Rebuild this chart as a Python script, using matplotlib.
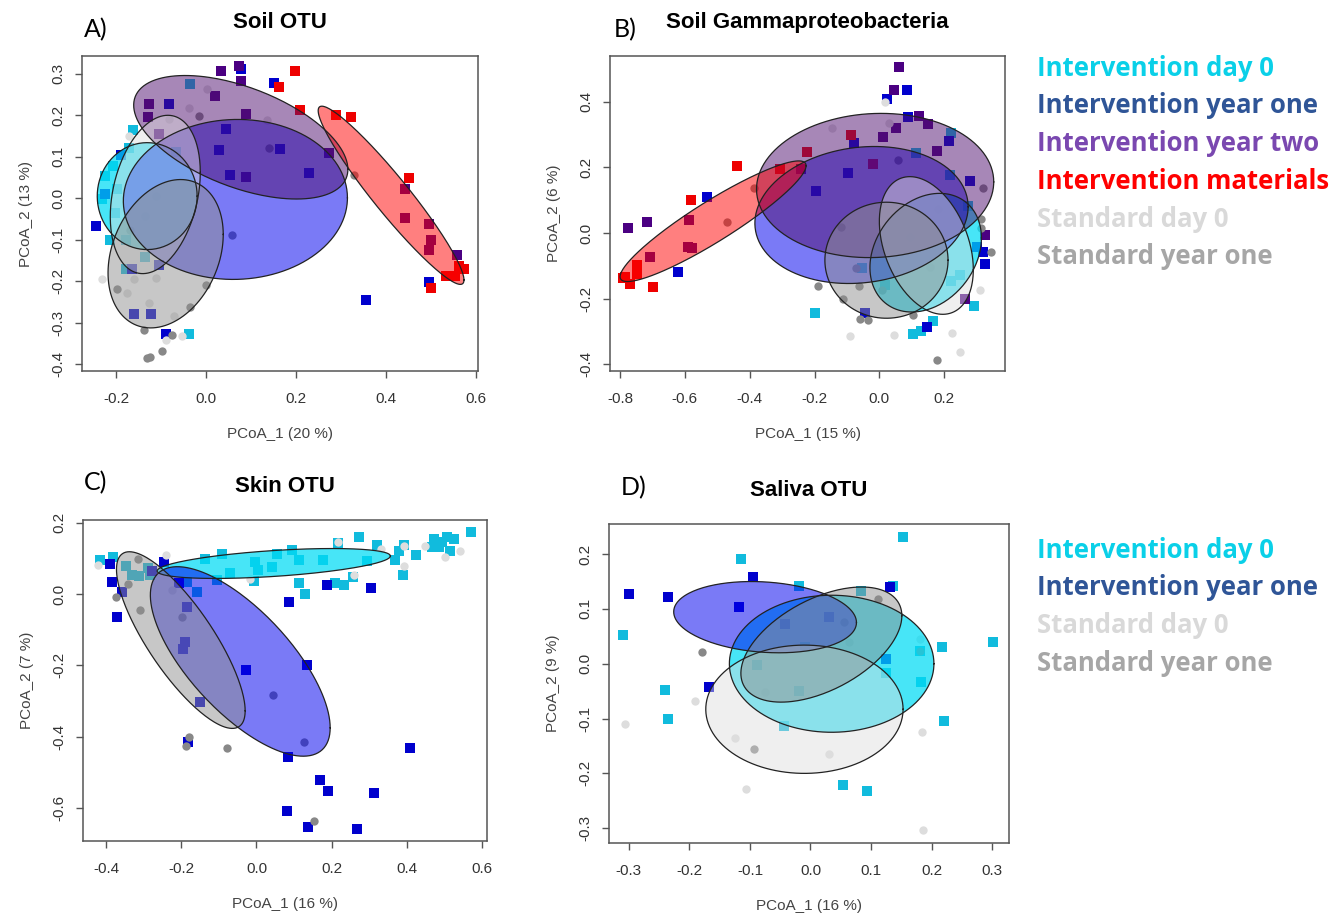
import numpy as np
import matplotlib.pyplot as plt

# group styling: point colour, marker, ellipse fill colour, ellipse alpha
groups = ["day0", "year1", "year2", "materials", "std_day0", "std_year1"]
point_color = {"day0": "#11BBDD", "year1": "#0000CD", "year2": "#4B0082",
               "materials": "#EE0000", "std_day0": "#DDDDDD", "std_year1": "#888888"}
marker = {"day0": "s", "year1": "s", "year2": "s", "materials": "s",
          "std_day0": "o", "std_year1": "o"}
fill_color = {"day0": "#00DCF5", "year1": "#0000EE", "year2": "#501070",
              "materials": "#FF0000", "std_day0": "#DDDDDD", "std_year1": "#909090"}
fill_alpha = {"day0": 0.72, "year1": 0.52, "year2": 0.5, "materials": 0.5,
              "std_day0": 0.45, "std_year1": 0.5}

legend_top = ["Intervention day 0", "Intervention year one", "Intervention year two",
              "Intervention materials", "Standard day 0", "Standard year one"]
legend_top_colors = ["#0AD0E8", "#2F5597", "#7A48B0", "#FF0000", "#D9D9D9", "#A6A6A6"]
legend_bottom = ["Intervention day 0", "Intervention year one", "Standard day 0", "Standard year one"]
legend_bottom_colors = ["#0AD0E8", "#2F5597", "#D9D9D9", "#A6A6A6"]

# ---------------- A) Soil OTU ----------------
a_day0 = [(-0.035, 0.275), (-0.163, 0.164), (-0.224, 0.053), (-0.198, 0.021), (-0.206, 0.077),
          (-0.232, -0.002), (-0.202, -0.035), (-0.213, -0.100), (-0.178, -0.100), (-0.135, -0.142),
          (-0.178, -0.172), (-0.039, -0.327), (-0.067, 0.111), (-0.172, 0.121)]
a_year1 = [(0.078, 0.312), (0.151, 0.278), (-0.082, 0.228), (0.044, 0.166), (0.028, 0.117),
           (0.164, 0.119), (0.053, 0.056), (0.228, 0.061), (-0.244, -0.068), (-0.189, 0.105),
           (0.495, -0.202), (0.356, -0.245), (-0.161, -0.280), (-0.123, -0.280), (-0.089, -0.327),
           (-0.165, -0.171), (-0.104, -0.162), (-0.224, 0.009)]
a_year2 = [(0.074, 0.320), (0.034, 0.306), (0.077, 0.282), (0.020, 0.246), (-0.126, 0.228),
           (-0.129, 0.196), (0.089, 0.204), (0.088, 0.051), (0.272, 0.108), (0.441, 0.023),
           (0.441, -0.047), (0.496, -0.062), (0.499, -0.101), (0.496, -0.125), (0.557, -0.138),
           (-0.104, 0.154)]
a_materials = [(0.198, 0.308), (0.162, 0.269), (0.209, 0.212), (0.288, 0.200), (0.322, 0.196),
               (0.450, 0.049), (0.500, -0.216), (0.533, -0.187), (0.552, -0.187), (0.573, -0.171),
               (0.562, -0.164)]
a_std_day0 = [(-0.172, 0.150), (-0.232, -0.195), (-0.176, -0.228), (-0.126, -0.254), (-0.072, -0.285),
              (-0.053, -0.333), (-0.089, -0.341), (0.002, 0.264), (-0.039, 0.218), (-0.083, 0.190),
              (0.136, 0.188), (-0.111, -0.192), (-0.161, -0.196), (-0.111, 0.005), (-0.135, -0.042)]
a_std_year1 = [(-0.139, -0.319), (-0.131, -0.385), (-0.124, -0.383), (-0.097, -0.369), (-0.198, -0.220),
               (-0.035, -0.262), (0.000, -0.210), (-0.076, -0.329), (0.328, 0.056), (-0.015, 0.198),
               (0.140, 0.121), (0.058, -0.090), (-0.169, -0.076)]
# ellipses: group, centre x, centre y, half-range x, half-range y, correlation
a_ellipses = [("day0", -0.131, 0.005, 0.111, 0.129, 0.0),
              ("year1", 0.065, -0.003, 0.249, 0.193, 0.02),
              ("year2", 0.077, 0.147, 0.238, 0.149, -0.52),
              ("materials", 0.411, 0.007, 0.162, 0.215, -0.95),
              ("std_day0", -0.113, 0.009, 0.100, 0.191, 0.28),
              ("std_year1", -0.090, -0.134, 0.128, 0.179, 0.26)]

# ---------------- B) Soil Gammaproteobacteria ----------------
b_day0 = [(0.221, 0.304), (0.112, 0.245), (0.217, 0.177), (0.274, 0.083), (-0.052, -0.106),
          (0.017, -0.159), (0.220, -0.147), (0.248, -0.128), (0.291, -0.222), (-0.199, -0.245),
          (0.104, -0.309), (0.130, -0.298), (0.166, -0.268)]
b_year1 = [(0.084, 0.437), (0.024, 0.409), (0.089, 0.353), (-0.079, 0.276), (0.215, 0.281),
           (-0.098, 0.184), (-0.194, 0.129), (0.281, 0.159), (-0.533, 0.109), (-0.620, -0.118),
           (-0.045, -0.245), (0.146, -0.286), (0.319, -0.057), (0.326, -0.093), (0.300, -0.042)]
b_year2 = [(0.061, 0.506), (0.045, 0.437), (0.123, 0.358), (0.149, 0.332), (0.052, 0.320),
           (0.010, 0.292), (0.178, 0.251), (-0.243, 0.195), (-0.776, 0.016), (-0.716, 0.035),
           (-0.708, -0.074), (-0.587, 0.040), (-0.591, -0.042), (-0.579, -0.047), (0.325, -0.006),
           (0.264, -0.202)]
b_materials = [(-0.440, 0.203), (-0.582, 0.101), (-0.785, -0.133), (-0.769, -0.154), (-0.747, -0.098),
               (-0.747, -0.125), (-0.792, -0.138), (-0.697, -0.164), (-0.224, 0.248), (-0.086, 0.299),
               (-0.307, 0.194), (-0.021, 0.210)]
b_std_day0 = [(0.019, 0.401), (-0.147, 0.320), (0.030, 0.335), (-0.091, -0.313), (0.045, -0.311),
              (0.225, -0.306), (0.248, -0.362), (0.310, -0.174), (0.181, 0.072), (0.156, -0.103),
              (0.094, -0.011)]
b_std_year1 = [(-0.387, 0.138), (-0.469, 0.035), (0.319, 0.136), (0.313, 0.043), (0.346, -0.057),
               (0.313, 0.014), (-0.188, -0.161), (-0.113, -0.202), (-0.064, -0.161), (-0.060, -0.261),
               (-0.034, -0.266), (0.104, -0.250), (0.178, -0.386), (-0.072, -0.106), (0.059, 0.223),
               (-0.117, 0.019), (0.009, -0.174)]
b_ellipses = [("day0", 0.143, -0.060, 0.172, 0.181, 0.25),
              ("year1", -0.055, 0.055, 0.329, 0.209, 0.12),
              ("year2", -0.013, 0.145, 0.366, 0.220, 0.05),
              ("materials", -0.513, 0.036, 0.287, 0.184, 0.92),
              ("std_day0", 0.145, -0.038, 0.145, 0.210, -0.35),
              ("std_year1", 0.022, -0.083, 0.190, 0.177, 0.0)]

# ---------------- C) Skin OTU ----------------
c_day0 = [(-0.416, 0.097), (-0.380, 0.103), (-0.348, 0.079), (-0.332, 0.055), (-0.312, 0.050),
          (-0.283, 0.053), (-0.287, 0.072), (-0.185, 0.035), (-0.159, 0.006), (-0.136, 0.100),
          (-0.105, 0.041), (-0.092, 0.114), (-0.069, 0.060), (-0.004, 0.091), (0.005, 0.067),
          (0.041, 0.077), (0.054, 0.114), (0.094, 0.125), (0.112, 0.032), (0.114, 0.095),
          (0.129, 0.000), (0.178, 0.097), (0.209, 0.032), (0.217, 0.144), (0.233, 0.025),
          (0.256, 0.049), (0.273, 0.159), (0.294, 0.094), (0.320, 0.138), (0.369, 0.095),
          (0.378, 0.122), (0.391, 0.138), (0.389, 0.053), (0.423, 0.111), (0.467, 0.131),
          (0.472, 0.156), (0.494, 0.147), (0.507, 0.159), (0.514, 0.122), (0.525, 0.156),
          (0.571, 0.175), (0.485, 0.133), (-0.006, 0.037)]
c_year1 = [(-0.389, 0.084), (-0.383, 0.033), (-0.370, -0.065), (-0.357, 0.007), (-0.247, 0.089),
           (-0.206, 0.032), (-0.185, -0.036), (-0.190, -0.134), (-0.194, -0.154), (-0.150, -0.302),
           (-0.028, -0.213), (0.134, -0.199), (0.083, -0.458), (0.086, -0.022), (0.188, 0.027),
           (0.305, 0.016), (0.407, -0.433), (0.168, -0.522), (0.190, -0.552), (0.312, -0.559),
           (0.081, -0.608), (0.136, -0.655), (0.267, -0.659), (-0.183, -0.414), (-0.278, 0.065)]
c_std_day0 = [(-0.420, 0.081), (-0.240, 0.111), (0.218, 0.145), (0.393, 0.135), (0.393, 0.079),
              (0.447, 0.135), (0.502, 0.103), (0.542, 0.122), (0.259, 0.053), (0.331, 0.128),
              (-0.017, 0.042), (-0.225, 0.011)]
c_std_year1 = [(-0.314, 0.098), (-0.341, 0.028), (-0.372, -0.009), (-0.309, -0.045), (-0.199, -0.064),
               (-0.178, -0.402), (-0.187, -0.427), (-0.079, -0.433), (0.044, -0.282), (0.127, -0.414),
               (0.152, -0.637)]
c_ellipses = [("day0", 0.046, 0.086, 0.310, 0.042, 0.5),
              ("year1", -0.043, -0.189, 0.239, 0.266, -0.70),
              ("std_year1", -0.201, -0.129, 0.171, 0.248, -0.80)]

# ---------------- D) Saliva OTU ----------------
d_day0 = [(0.153, 0.232), (-0.114, 0.192), (-0.019, 0.142), (0.084, 0.132), (0.137, 0.141),
          (-0.310, 0.053), (0.217, 0.030), (0.302, 0.040), (0.181, 0.023), (0.125, -0.016),
          (0.183, -0.033), (-0.089, -0.003), (-0.019, -0.049), (-0.241, -0.048), (-0.236, -0.101),
          (-0.043, -0.114), (0.220, -0.104), (0.053, -0.221), (0.093, -0.232), (-0.009, 0.030)]
d_year1 = [(-0.300, 0.127), (-0.236, 0.121), (-0.095, 0.158), (-0.118, 0.104), (-0.042, 0.072),
           (0.030, 0.085), (0.132, 0.140), (0.125, 0.008), (-0.168, -0.042)]
d_std_day0 = [(-0.307, -0.110), (-0.191, -0.068), (-0.125, -0.135), (0.031, -0.164), (-0.106, -0.229),
              (0.185, -0.124), (0.186, -0.303), (-0.075, -0.051), (0.181, 0.046), (0.063, 0.040)]
d_std_year1 = [(-0.180, 0.022), (-0.093, -0.156), (0.056, 0.077), (0.111, 0.119), (0.181, 0.023)]
d_ellipses = [("day0", 0.035, 0.000, 0.169, 0.125, 0.0),
              ("year1", -0.075, 0.085, 0.151, 0.065, -0.15),
              ("std_day0", -0.010, -0.083, 0.163, 0.117, 0.0),
              ("std_year1", 0.018, 0.035, 0.133, 0.105, 0.5)]


def ellipse_xy(cx, cy, sx, sy, rho, n=240):
    t = np.linspace(0, 2 * np.pi, n)
    x = cx + sx * np.cos(t)
    y = cy + sy * (rho * np.cos(t) + np.sqrt(1 - rho ** 2) * np.sin(t))
    return x, y


def draw_panel(ax, pts, ellipses, xlim, ylim, xticks, yticks, title, xlab, ylab):
    for g in groups:
        if g not in pts:
            continue
        arr = np.array(pts[g])
        ax.scatter(arr[:, 0], arr[:, 1], s=44 if marker[g] == "s" else 36,
                   marker=marker[g], color=point_color[g], linewidths=0, zorder=2)
    for (g, cx, cy, sx, sy, rho) in ellipses:
        ex, ey = ellipse_xy(cx, cy, sx, sy, rho)
        ax.fill(ex, ey, facecolor=fill_color[g], alpha=fill_alpha[g], zorder=3)
        ax.plot(ex, ey, color="#222222", lw=0.9, zorder=4)
    ax.set_xlim(xlim)
    ax.set_ylim(ylim)
    ax.set_xticks(xticks)
    ax.set_yticks(yticks)
    ax.set_xticklabels([f"{v:.1f}" for v in xticks])
    ax.set_yticklabels([f"{v:.1f}" for v in yticks], rotation=90, va="center")
    ax.tick_params(length=5, width=1, color="#555555", labelsize=11,
                   labelcolor="#333333", direction="out")
    ax.tick_params(axis="x", pad=10)
    ax.tick_params(axis="y", pad=7)
    for sp in ax.spines.values():
        sp.set_color("#555555")
        sp.set_linewidth(1.1)
    ax.set_title(title, fontsize=16, fontweight="bold", pad=20, family="Liberation Sans")
    ax.set_xlabel(xlab, fontsize=11, color="#444444", labelpad=15)
    ax.set_ylabel(ylab, fontsize=11, color="#444444", labelpad=13)


plt.rcParams["font.family"] = ["Liberation Sans", "DejaVu Sans"]
fig = plt.figure(figsize=(13.41, 9.17), dpi=100)

axA = fig.add_axes([0.0611, 0.5954, 0.2953, 0.3435])
draw_panel(axA, {"day0": a_day0, "year1": a_year1, "year2": a_year2, "materials": a_materials,
                 "std_day0": a_std_day0, "std_year1": a_std_year1},
           a_ellipses, (-0.276, 0.604), (-0.417, 0.343),
           [-0.2, 0.0, 0.2, 0.4, 0.6], [-0.4, -0.3, -0.2, -0.1, 0.0, 0.1, 0.2, 0.3],
           "Soil OTU", "PCoA_1 (20 %)", "PCoA_2 (13 %)")

axB = fig.add_axes([0.4549, 0.5954, 0.2946, 0.3435])
draw_panel(axB, {"day0": b_day0, "year1": b_year1, "year2": b_year2, "materials": b_materials,
                 "std_day0": b_std_day0, "std_year1": b_std_year1},
           b_ellipses, (-0.831, 0.388), (-0.421, 0.540),
           [-0.8, -0.6, -0.4, -0.2, 0.0, 0.2], [-0.4, -0.2, 0.0, 0.2, 0.4],
           "Soil Gammaproteobacteria", "PCoA_1 (15 %)", "PCoA_2 (6 %)")

axC = fig.add_axes([0.0619, 0.0829, 0.3013, 0.3500])
draw_panel(axC, {"day0": c_day0, "year1": c_year1, "std_day0": c_std_day0, "std_year1": c_std_year1},
           c_ellipses, (-0.461, 0.613), (-0.693, 0.208),
           [-0.4, -0.2, 0.0, 0.2, 0.4, 0.6], [-0.6, -0.4, -0.2, 0.0, 0.2],
           "Skin OTU", "PCoA_1 (16 %)", "PCoA_2 (7 %)")

axD = fig.add_axes([0.4541, 0.0807, 0.2983, 0.3479])
draw_panel(axD, {"day0": d_day0, "year1": d_year1, "std_day0": d_std_day0, "std_year1": d_std_year1},
           d_ellipses, (-0.333, 0.328), (-0.327, 0.255),
           [-0.3, -0.2, -0.1, 0.0, 0.1, 0.2, 0.3], [-0.3, -0.2, -0.1, 0.0, 0.1, 0.2],
           "Saliva OTU", "PCoA_1 (16 %)", "PCoA_2 (9 %)")

# panel letters
for lab, x, y in [("A)", 84, 30), ("B)", 614, 30), ("C)", 84, 483), ("D)", 621, 488)]:
    fig.text(x / 1341, 1 - y / 917, lab, fontsize=18, family="Lato",
             ha="left", va="center")

# legends as coloured text
for i, (name, col) in enumerate(zip(legend_top, legend_top_colors)):
    fig.text(1037 / 1341, 1 - (68 + i * 37.8) / 917, name, color=col, fontsize=18.5,
             fontweight="bold", family="Open Sans", ha="left", va="center")
for i, (name, col) in enumerate(zip(legend_bottom, legend_bottom_colors)):
    fig.text(1037 / 1341, 1 - (550 + i * 37.8) / 917, name, color=col, fontsize=18.5,
             fontweight="bold", family="Open Sans", ha="left", va="center")

fig.savefig("out.png", dpi=100)
